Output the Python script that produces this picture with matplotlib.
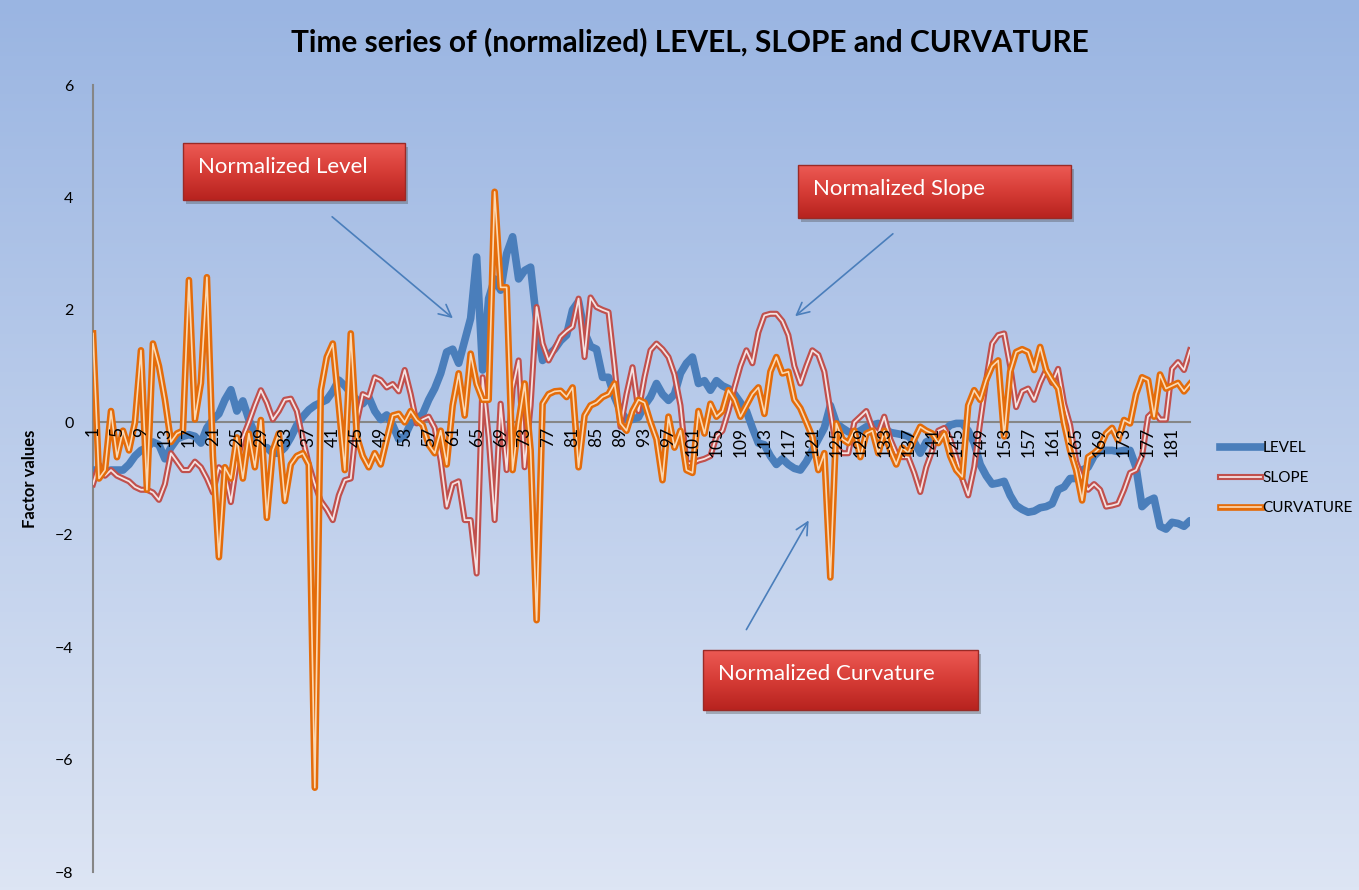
import numpy as np
import matplotlib

matplotlib.use("Agg")
import matplotlib.pyplot as plt
from matplotlib.lines import Line2D
from matplotlib.legend_handler import HandlerTuple
from matplotlib.colors import LinearSegmentedColormap
from matplotlib.patches import Rectangle

plt.rcParams["font.family"] = ["Lato", "DejaVu Sans"]

# normalized factor values, one per period
level = [
    -0.85, -0.85, -0.88, -0.85, -0.85, -0.85, -0.75, -0.6, -0.5, -0.45,
    -0.35, -0.4, -0.65, -0.45, -0.3, -0.25, -0.22, -0.25, -0.37, -0.1,
    0.05, 0.15, 0.4, 0.58, 0.2, 0.38, 0.05, -0.2, -0.5, -0.45,
    -0.55, -0.55, -0.45, -0.27, -0.05, 0.1, 0.22, 0.3, 0.35, 0.4,
    0.55, 0.75, 0.65, 0.52, 0.4, 0.33, 0.45, 0.2, 0.05, 0.13,
    -0.05, -0.3, -0.25, -0.02, 0.05, 0.15, 0.4, 0.6, 0.87, 1.25,
    1.3, 1.05, 1.45, 1.85, 2.94, 0.93, 2.2, 2.55, 2.35, 3.0,
    3.3, 2.55, 2.7, 2.76, 1.8, 1.1, 1.2, 1.3, 1.45, 1.55,
    2.0, 2.15, 1.6, 1.35, 1.3, 0.8, 0.8, 0.45, 0.2, 0.05,
    0.05, 0.09, 0.3, 0.45, 0.69, 0.5, 0.39, 0.5, 0.87, 1.05,
    1.16, 0.69, 0.74, 0.57, 0.74, 0.65, 0.6, 0.5, 0.35, 0.2,
    -0.1, -0.37, -0.4, -0.6, -0.75, -0.65, -0.75, -0.82, -0.85, -0.7,
    -0.5, -0.3, -0.1, 0.3, -0.02, -0.1, -0.17, -0.2, -0.15, -0.08,
    -0.05, -0.02, -0.1, -0.18, -0.2, -0.22, -0.25, -0.35, -0.55, -0.35,
    -0.3, -0.22, -0.15, -0.05, -0.02, -0.02, -0.15, -0.37, -0.75, -0.95,
    -1.1, -1.08, -1.05, -1.3, -1.48, -1.55, -1.6, -1.58, -1.52, -1.5,
    -1.45, -1.2, -1.15, -1.0, -1.0, -0.85, -0.8, -0.6, -0.5, -0.5,
    -0.5, -0.52, -0.5, -0.5, -0.8, -1.5, -1.4, -1.35, -1.85, -1.9,
    -1.78, -1.8, -1.85, -1.75,
]
slope = [
    -1.1, -0.75, -0.95, -0.85, -0.95, -1.0, -1.05, -1.15, -1.2, -1.2,
    -1.25, -1.38, -1.1, -0.55, -0.7, -0.85, -0.85, -0.7, -0.8, -1.0,
    -1.25, -0.8, -0.9, -1.42, -0.7, -0.27, 0.0, 0.3, 0.57, 0.35,
    0.05, 0.2, 0.4, 0.42, 0.2, -0.3, -0.75, -1.1, -1.4, -1.55,
    -1.74, -1.3, -1.03, -1.0, 0.0, 0.5, 0.45, 0.8, 0.75, 0.62,
    0.68, 0.55, 0.93, 0.5, -0.02, 0.05, 0.1, -0.1, -0.68, -1.5,
    -1.1, -1.05, -1.74, -1.74, -2.69, 0.8, -0.26, -1.74, 0.33, -0.85,
    0.6, 1.1, -0.8, 0.3, 2.05, 1.4, 1.1, 1.3, 1.52, 1.62,
    1.7, 2.2, 1.16, 2.22, 2.05, 2.0, 1.96, 1.0, -0.08, 0.5,
    0.98, 0.2, 0.8, 1.28, 1.4, 1.3, 1.16, 0.85, 0.3, -0.73,
    -0.73, -0.68, -0.65, -0.6, -0.25, -0.15, 0.2, 0.62, 1.0, 1.28,
    1.05, 1.6, 1.9, 1.93, 1.93, 1.8, 1.55, 1.0, 0.69, 1.0,
    1.28, 1.2, 0.9, 0.21, -0.45, -0.55, -0.55, 0.0, 0.1, 0.2,
    -0.1, -0.2, 0.1, -0.3, -0.55, -0.62, -0.62, -0.9, -1.24, -0.8,
    -0.5, -0.15, -0.1, -0.3, -0.62, -1.0, -1.3, -0.8, 0.0, 0.75,
    1.4, 1.55, 1.58, 1.0, 0.27, 0.55, 0.6, 0.4, 0.7, 0.93,
    0.7, 0.95, 0.33, -0.05, -0.7, -1.0, -1.2, -1.1, -1.2, -1.5,
    -1.48, -1.45, -1.2, -0.9, -0.85, -0.6, 0.1, 0.2, 0.05, 0.05,
    0.95, 1.07, 0.93, 1.28,
]
curvature = [
    1.58, -1.0, -0.85, 0.2, -0.62, -0.15, -0.5, 0.0, 1.28, -1.2,
    1.4, 1.0, 0.4, -0.35, -0.2, -0.15, 2.53, 0.05, 0.7, 2.58,
    -0.6, -2.4, -0.8, -1.0, -0.27, -1.0, -0.2, -0.8, 0.04, -1.7,
    -0.5, -0.2, -1.4, -0.75, -0.6, -0.55, -0.75, -6.5, 0.57, 1.16,
    1.4, 0.3, -0.85, 1.58, -0.25, -0.6, -0.8, -0.55, -0.75, -0.3,
    0.12, 0.15, 0.0, 0.2, 0.04, -0.05, -0.4, -0.55, -0.15, -0.75,
    0.3, 0.87, 0.12, 1.22, 0.68, 0.4, 0.4, 4.1, 2.4, 2.4,
    -0.85, 0.0, 0.69, -0.5, -3.52, 0.33, 0.5, 0.55, 0.56, 0.45,
    0.62, -0.8, 0.12, 0.3, 0.35, 0.45, 0.5, 0.69, -0.02, -0.15,
    0.2, 0.4, 0.35, 0.0, -0.3, -1.03, 0.1, -0.45, -0.15, -0.85,
    -0.9, 0.2, -0.2, 0.33, 0.1, 0.2, 0.57, 0.4, 0.1, 0.3,
    0.5, 0.62, 0.15, 0.9, 1.16, 0.87, 0.9, 0.4, 0.25, 0.0,
    -0.26, -0.85, -0.55, -2.76, -0.02, -0.3, -0.37, -0.15, -0.62, -0.2,
    -0.15, -0.55, -0.15, -0.5, -0.75, -0.45, -0.55, -0.3, -0.08, -0.15,
    -0.2, -0.37, -0.2, -0.6, -0.85, -0.97, 0.3, 0.57, 0.4, 0.75,
    1.0, 1.1, -0.25, 0.9, 1.25, 1.3, 1.25, 0.93, 1.34, 0.93,
    0.75, 0.6, -0.02, -0.5, -0.85, -1.39, -0.62, -0.55, -0.45, -0.2,
    -0.1, -0.32, 0.04, -0.02, 0.5, 0.8, 0.75, 0.1, 0.85, 0.6,
    0.65, 0.7, 0.55, 0.68,
]
periods = np.arange(1, len(level) + 1)
y_ticks = [6, 4, 2, 0, -2, -4, -6, -8]

BLUE = "#4a7ebb"
RED = "#c0504d"
ORANGE = "#e46c0a"

fig = plt.figure(figsize=(13.59, 8.90), dpi=100)

# background gradient for the whole chart area
bg = fig.add_axes([0, 0, 1, 1], zorder=-10)
bg_cmap = LinearSegmentedColormap.from_list("bg", ["#9ab5e2", "#dde5f4"])
bg.imshow(np.linspace(0, 1, 256)[:, None], aspect="auto", cmap=bg_cmap,
          extent=(0, 1, 0, 1), origin="upper")
bg.set_xlim(0, 1); bg.set_ylim(0, 1)
bg.axis("off")

ax = fig.add_axes([93 / 1359, 1 - 872 / 890, 1097 / 1359, 787 / 890])
ax.set_facecolor("none")
# category axis crosses at zero (set before the ticks, it resets them)
ax.spines["bottom"].set_position(("data", 0))
ax.spines["bottom"].set_color("#868686")
ax.spines["bottom"].set_linewidth(1.5)
ax.spines["left"].set_color("#868686")
ax.spines["left"].set_linewidth(1.5)
ax.spines["top"].set_visible(False)
ax.spines["right"].set_visible(False)

ax.plot(periods, level, color=BLUE, lw=5.5, solid_capstyle="round", zorder=3)
ax.plot(periods, slope, color=RED, lw=4.4, zorder=4)
ax.plot(periods, slope, color="#f5e3e3", lw=1.3, zorder=4)
ax.plot(periods, curvature, color=ORANGE, lw=4.8, zorder=5)
ax.plot(periods, curvature, color="#fbd9b4", lw=1.2, zorder=5)

ax.set_xlim(1, len(level))
ax.set_ylim(-8, 6)
ax.set_yticks(y_ticks)
ax.set_xticks(periods[::4])
ax.set_xticklabels([str(p) for p in periods[::4]])
ax.tick_params(axis="x", length=0, pad=3, labelsize=12.5, labelrotation=90)
ax.tick_params(axis="y", length=0, pad=14, labelsize=11.5)
for lab in ax.get_xticklabels():
    lab.set_verticalalignment("top")
ax.xaxis.set_zorder(6)  # category labels sit on top of the series

ax.set_ylabel("Factor values", fontsize=12, fontweight="bold", labelpad=12)

fig.text(690 / 1359, 1 - 42 / 890,
         "Time series of (normalized) LEVEL, SLOPE and CURVATURE",
         ha="center", va="center", fontsize=21.5, fontweight="bold")

# legend with double-line handles
h_level = Line2D([], [], color=BLUE, lw=5.5)
h_slope = (Line2D([], [], color=RED, lw=4.4), Line2D([], [], color="#f5e3e3", lw=1.3))
h_curv = (Line2D([], [], color=ORANGE, lw=4.8), Line2D([], [], color="#fbd9b4", lw=1.2))
fig.legend([h_level, h_slope, h_curv], ["LEVEL", "SLOPE", "CURVATURE"],
           handler_map={tuple: HandlerTuple(ndivide=1)},
           loc="center left", bbox_to_anchor=(1206 / 1359, 1 - 478 / 890),
           frameon=False, fontsize=11, handlelength=2.7, handletextpad=0.1,
           labelspacing=1.05)

# annotation layer in pixel coordinates
ov = fig.add_axes([0, 0, 1, 1], zorder=10)
ov.set_facecolor("none")
box_cmap = LinearSegmentedColormap.from_list("box", ["#ec5a54", "#d63c36", "#b7231f"])
boxes = [
    (183, 143, 405, 200, "Normalized Level"),
    (798, 165, 1071, 218, "Normalized Slope"),
    (703, 650, 978, 710, "Normalized Curvature"),
]
for x0, y0, x1, y1, txt in boxes:
    ov.add_patch(Rectangle((x0 + 3, y0 + 4), x1 - x0, y1 - y0,
                           facecolor="#4a4a4a", alpha=0.35, lw=0, zorder=0.5))
    ov.imshow(np.linspace(0, 1, 64)[:, None], aspect="auto", cmap=box_cmap,
              extent=(x0, x1, y1, y0), origin="upper", interpolation="bilinear",
              zorder=1)
    ov.add_patch(Rectangle((x0, y0), x1 - x0, y1 - y0, facecolor="none",
                           edgecolor="#9a2a26", lw=1.0, zorder=2))
    ov.text(x0 + 15, y0 + 24, txt, color="white", fontsize=16,
            ha="left", va="center", zorder=3)

arrows = [((330, 215), (455, 320)), ((895, 232), (793, 318)), ((745, 632), (810, 518))]
for start, end in arrows:
    ov.annotate("", xy=end, xytext=start,
                arrowprops=dict(arrowstyle="->", color=BLUE, lw=1.2, mutation_scale=22))
ov.set_xlim(0, 1359)
ov.set_ylim(890, 0)
ov.axis("off")

fig.savefig("out.png", dpi=100)
